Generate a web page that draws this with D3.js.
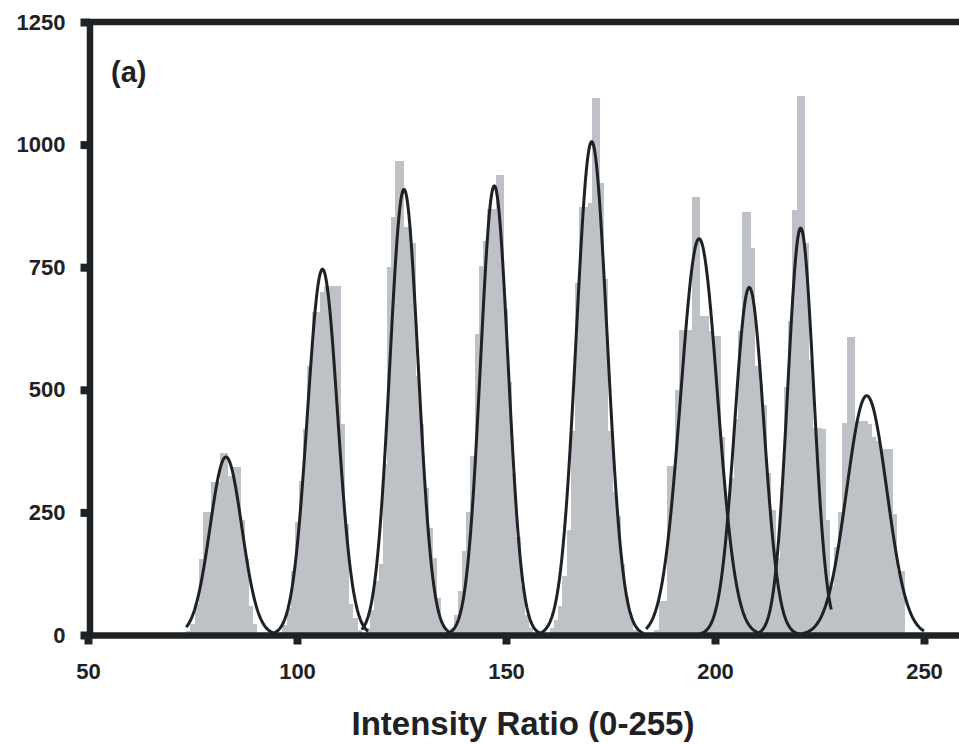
<!DOCTYPE html>
<html>
<head>
<meta charset="utf-8">
<script src="https://cdn.jsdelivr.net/npm/d3@7"></script>
<style>
  body { margin: 0; background: #fff; }
  svg { display: block; }
  text { font-family: "Liberation Sans", Arial, sans-serif; font-weight: bold; fill: #1e2225; }
</style>
</head>
<body>
<script>
// histogram, one bar per intensity value, first bar at 74
const binStart = 74
const counts = [
  8, 22, 63, 155, 251, 251, 311, 311, 371, 371, 325, 343, 343, 235, 155, 60, 22, 5,      // 74-91
  0, 0, 0, 0, 5, 20, 55, 130, 230, 314, 420, 549, 658, 658, 700, 712, 712, 712, 712,     // 92-110
  431, 226, 63, 35, 10, 0, 15, 50, 110, 145, 349, 750, 852, 967, 967, 831, 831, 800,     // 111-128
  528, 430, 300, 219, 158, 76, 20, 5, 15, 40, 90, 171, 250, 365, 614, 753, 804, 869,     // 129-146
  869, 937, 937, 665, 515, 330, 200, 100, 40, 15, 5, 0, 0, 5, 15, 30, 60, 120, 214,      // 147-165
  417, 718, 872, 872, 880, 1095, 1095, 922, 725, 417, 291, 242, 144, 77, 39, 10,         // 166-181
  0, 0, 0, 0, 10, 69, 69, 345, 345, 500, 622, 622, 622, 894, 894, 651, 651, 620, 609,    // 182-200
  609, 404, 258, 320, 440, 619, 863, 863, 789, 549, 509, 469, 331, 254, 156, 300, 505,   // 201-217
  640, 867, 1099, 1099, 800, 560, 423, 423, 420, 234, 100, 180, 250, 433, 607, 607,      // 218-233
  437, 437, 437, 430, 403, 396, 379, 379, 379, 246, 130, 130                             // 234-245
]

// fitted gaussian peaks
const peakCenter = [83.0, 106.1, 125.6, 147.2, 170.5, 196.2, 208.2, 220.5, 236.3]
const peakHeight = [363, 746, 909, 916, 1006, 808, 709, 830, 488]
const peakSigma  = [3.8, 3.6, 3.4, 3.3, 3.7, 4.4, 3.5, 3.1, 4.8]
const curveFrom  = [73.5, 93, 115.5, 135, 158, 183.5, 196, 210, 221]
const curveTo    = [95, 117, 136.5, 159.5, 183, 211, 221, 227.9, 250]

const xTicks = [50, 100, 150, 200, 250]
const yTicks = [0, 250, 500, 750, 1000, 1250]
const xTitle = 'Intensity Ratio (0-255)'
const panelLabel = '(a)'

document.addEventListener('DOMContentLoaded', init)

function init() {
  var margin = {top: 22, left: 88}
    , width = 877.8
    , height = 613;

  var ink = '#1e2225', barFill = '#bec1c5';

  var x = d3.scaleLinear()
      .domain([50, 260])
      .range([0, width]);

  var y = d3.scaleLinear()
      .domain([0, 1250])
      .range([height, 0]);

  var chart = d3.select('body')
      .append('svg')
      .attr('width', 959)
      .attr('height', 744);

  var main = chart.append('g')
      .attr('transform', 'translate(' + margin.left + ',' + margin.top + ')');

  // histogram bars
  main.append('g')
    .selectAll('rect')
    .data(counts)
    .enter().append('rect')
    .attr('shape-rendering', 'crispEdges')
    .attr('fill', barFill)
    .attr('x', function (d, i) { return x(binStart + i - 0.5); })
    .attr('width', function (d, i) { return x(binStart + i + 0.5) - x(binStart + i - 0.5); })
    .attr('y', function (d) { return y(d); })
    .attr('height', function (d) { return y(0) - y(d); });

  // fitted curves
  var line = d3.line()
      .x(function (d) { return x(d[0]); })
      .y(function (d) { return y(d[1]); });

  peakCenter.forEach(function (c, k) {
    var pts = [];
    for (var v = curveFrom[k]; v <= curveTo[k] + 1e-9; v += 0.2) {
      var z = (v - c) / peakSigma[k];
      pts.push([v, peakHeight[k] * Math.exp(-0.5 * z * z)]);
    }
    main.append('path')
      .datum(pts)
      .attr('fill', 'none')
      .attr('stroke', ink)
      .attr('stroke-width', 3)
      .attr('stroke-linejoin', 'round')
      .attr('d', line);
  });

  // top frame line
  main.append('line')
    .attr('x1', x(50)).attr('x2', x(260))
    .attr('y1', y(1250)).attr('y2', y(1250))
    .attr('stroke', ink)
    .attr('stroke-width', 6.5);

  // x axis
  var xAxis = d3.axisBottom(x)
      .tickValues(xTicks)
      .tickFormat(d3.format('d'))
      .tickSize(9.5)
      .tickSizeOuter(0)
      .tickPadding(18.5);

  var gx = main.append('g')
    .attr('transform', 'translate(0,' + height + ')')
    .call(xAxis);

  // y axis
  var yAxis = d3.axisLeft(y)
      .tickValues(yTicks)
      .tickFormat(d3.format('d'))
      .tickSize(9)
      .tickSizeOuter(0)
      .tickPadding(15);

  var gy = main.append('g')
    .attr('transform', 'translate(1.5,0)')
    .call(yAxis);

  [gx, gy].forEach(function (g) {
    g.select('.domain').attr('stroke', ink).attr('stroke-width', 6.5);
    g.selectAll('.tick line').attr('stroke', ink).attr('stroke-width', 8);
    g.selectAll('.tick text')
      .attr('fill', ink)
      .style('font-size', '22px')
      .style('font-family', '"Liberation Sans", Arial, sans-serif')
      .style('font-weight', 'bold');
  });

  // axis title and panel label
  chart.append('text')
    .attr('x', 523)
    .attr('y', 735)
    .attr('text-anchor', 'middle')
    .style('font-size', '33px')
    .text(xTitle);

  chart.append('text')
    .attr('x', 111)
    .attr('y', 82)
    .style('font-size', '29px')
    .text(panelLabel);
}
</script>
</body>
</html>
